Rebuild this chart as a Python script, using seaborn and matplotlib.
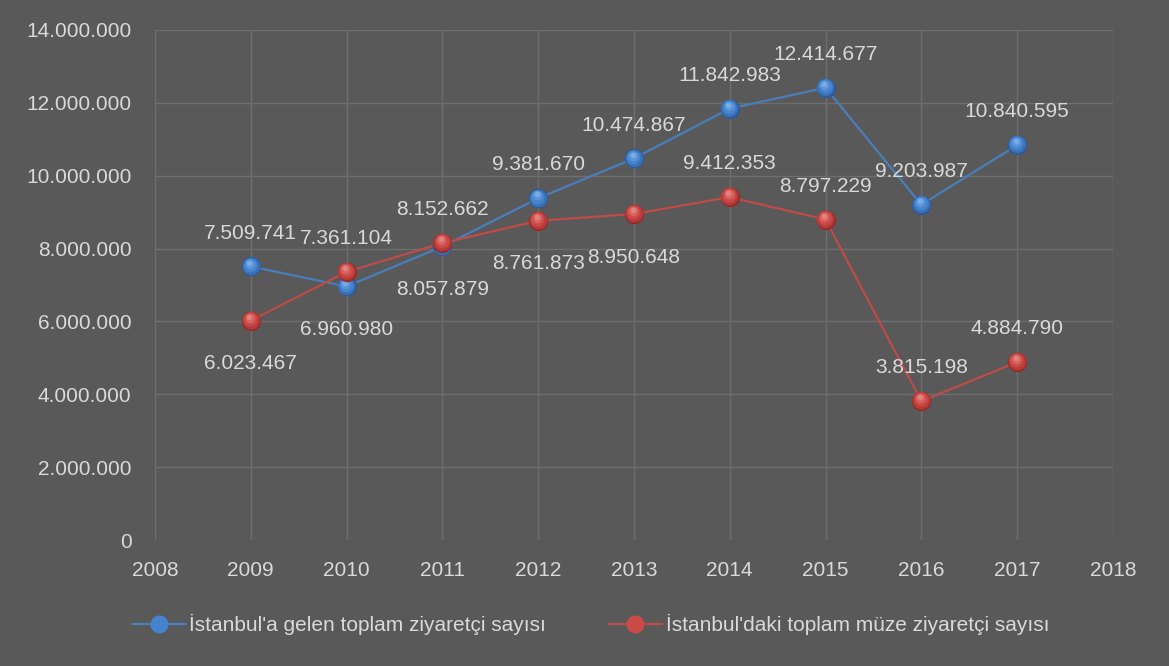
import matplotlib
matplotlib.use("Agg")
import matplotlib.pyplot as plt
import matplotlib.transforms as mtransforms
import seaborn as sns
import pandas as pd
from matplotlib.ticker import FuncFormatter, MultipleLocator
from matplotlib.lines import Line2D

years = [2009, 2010, 2011, 2012, 2013, 2014, 2015, 2016, 2017]
total_visitors = [7509741, 6960980, 8057879, 9381670, 10474867, 11842983, 12414677, 9203987, 10840595]
museum_visitors = [6023467, 7361104, 8152662, 8761873, 8950648, 9412353, 8797229, 3815198, 4884790]
series_names = ["İstanbul'a gelen toplam ziyaretçi sayısı", "İstanbul'daki toplam müze ziyaretçi sayısı"]
# label placement: 1 above, -1 below
total_pos = [1, -1, -1, 1, 1, 1, 1, 1, 1]
museum_pos = [-1, 1, 1, -1, -1, 1, 1, 1, 1]

BG = "#595959"
GRID = "#6e6e6e"
TXT = "#d9d9d9"
BLUE = "#4a7ebb"
RED = "#be4b48"
BLUE_M = ["#2d5a96", "#3a70b8", "#4683cc", "#5a95da", "#7aabe4"]
RED_M = ["#952d2b", "#b83b39", "#c94a47", "#d7625f", "#e2827f"]

sns.set_theme(style="dark")
plt.rcParams['font.family'] = ['Liberation Sans', 'DejaVu Sans']

df = pd.DataFrame({
    "year": years * 2,
    "value": total_visitors + museum_visitors,
    "series": [series_names[0]] * len(years) + [series_names[1]] * len(years),
})

fig = plt.figure(figsize=(11.69, 6.66), dpi=100, facecolor=BG)
ax = fig.add_axes([0.1326, 0.189, 0.8194, 0.766])
ax.set_facecolor(BG)

sns.lineplot(data=df, x="year", y="value", hue="series", palette=[BLUE, RED],
             linewidth=1.6, ax=ax, legend=False, sort=False)

# glossy sphere-like markers
for vals, shades in ((total_visitors, BLUE_M), (museum_visitors, RED_M)):
    sizes = [14, 12.6, 10, 7, 4]
    offs = [(0, 0), (-0.2, 0.5), (-0.5, 1.2), (-0.8, 2.0), (-1.0, 2.8)]
    for c, s, (dx, dy) in zip(shades, sizes, offs):
        tr = ax.transData + mtransforms.ScaledTranslation(dx / 72, dy / 72, fig.dpi_scale_trans)
        ax.plot(years, vals, linestyle="none", marker="o", markersize=s,
                markerfacecolor=c, markeredgewidth=0, transform=tr, zorder=3)

def fmt(v):
    return f"{int(v):,}".replace(",", ".")

for vals, pos in ((total_visitors, total_pos), (museum_visitors, museum_pos)):
    for x, v, p in zip(years, vals, pos):
        ax.annotate(fmt(v), (x, v), xytext=(0, 24 if p > 0 else -31),
                    textcoords="offset points", ha="center", va="center",
                    color=TXT, fontsize=15, zorder=4)

ax.set_xlim(2008, 2018)
ax.set_ylim(0, 14000000)
ax.xaxis.set_major_locator(MultipleLocator(1))
ax.yaxis.set_major_locator(MultipleLocator(2000000))
ax.yaxis.set_major_formatter(FuncFormatter(lambda v, p: "0" if v == 0 else fmt(v)))
ax.grid(True, color=GRID, linewidth=1.0, alpha=1)
ax.set_axisbelow(True)
for s in ax.spines.values():
    s.set_visible(False)
ax.tick_params(axis="both", length=0, colors=TXT, labelsize=15)
ax.tick_params(axis="y", pad=17)
ax.tick_params(axis="x", pad=15)
ax.set_xlabel("")
ax.set_ylabel("")

handles = [Line2D([0], [0], color=c, marker="o", markersize=13, markerfacecolor=m,
                  markeredgewidth=0, linewidth=1.6) for c, m in ((BLUE, BLUE_M[2]), (RED, RED_M[2]))]
leg = fig.legend(handles, series_names, loc="center", bbox_to_anchor=(0.505, 0.062),
                 ncol=2, frameon=False, fontsize=15, handlelength=2.6,
                 handletextpad=0.15, columnspacing=3.0, labelcolor=TXT)

fig.savefig("out.png", dpi=100, facecolor=BG)
